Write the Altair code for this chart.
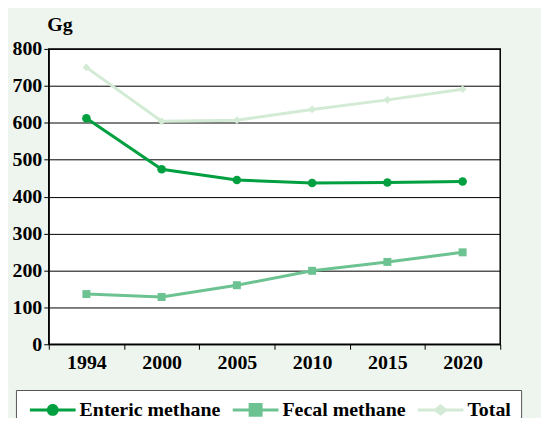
import altair as alt
import pandas as pd

years = ["1994", "2000", "2005", "2010", "2015", "2020"]
enteric = [612, 474, 445, 437, 438, 441]
fecal = [136, 128, 160, 199, 223, 249]
total = [750, 604, 607, 636, 662, 691]
series = ["Enteric methane", "Fecal methane", "Total"]
colors = ["#00A040", "#6CC391", "#D3EBD5"]
y_ticks = [0, 100, 200, 300, 400, 500, 600, 700, 800]

rows = []
for name, vals in zip(series, [enteric, fecal, total]):
    for yr, v in zip(years, vals):
        rows.append({"Year": yr, "Value": v, "Series": name})
df = pd.DataFrame(rows)

FONT = "Liberation Serif"

LINE = "M-2.3,-0.15H2.3V0.15H-2.3Z"
CIRCLE = LINE + "M0.6,0A0.6,0.6,0,1,1,-0.6,0A0.6,0.6,0,1,1,0.6,0Z"
SQUARE = LINE + "M-0.7,-0.7H0.7V0.7H-0.7Z"
DIAMOND = LINE + "M0,-0.6L0.75,0L0,0.6L-0.75,0Z"

x_enc = alt.X(
    "Year:N",
    sort=years,
    scale=alt.Scale(type="band", paddingInner=0, paddingOuter=0),
    axis=alt.Axis(
        title=None, labelAngle=0, tickBand="extent", tickSize=5,
        tickColor="black", domainColor="black", labelColor="black",
        labelFont=FONT, labelFontSize=20, labelFontWeight="bold",
        labelPadding=3, grid=False,
    ),
)
y_enc = alt.Y(
    "Value:Q",
    scale=alt.Scale(domain=[0, 800], nice=False),
    axis=alt.Axis(
        values=y_ticks, title="Gg", titleAngle=0, titleAlign="left",
        titleBaseline="alphabetic", titleX=-2, titleY=-19,
        titleFont=FONT, titleFontSize=20, titleFontWeight="bold", titleColor="black",
        labelFont=FONT, labelFontSize=20, labelFontWeight="bold", labelColor="black",
        labelPadding=2, tickSize=5, tickColor="black", domainColor="black",
        grid=True, gridColor="black", gridWidth=1,
    ),
)

base = alt.Chart(df)

layers = []
for name, col, shp, sz in zip(series, colors, ["circle", "square", "diamond"], [75, 64, 60]):
    sub = base.transform_filter(alt.datum.Series == name)
    layers.append(sub.mark_line(strokeWidth=3, color=col).encode(x=x_enc, y=y_enc))
    layers.append(
        sub.mark_point(filled=True, opacity=1, shape=shp, size=sz, color=col)
        .encode(x=x_enc, y=y_enc)
    )

legend_def = alt.Legend(
    title=None, orient="none", direction="horizontal",
    legendX=-33, legendY=343, padding=10,
    fillColor="white", strokeColor="#555555",
    symbolSize=400, symbolOffset=17, labelOffset=17, columnPadding=8,
    symbolStrokeWidth=0, symbolOpacity=1,
    labelFont=FONT, labelFontSize=20, labelFontWeight="bold",
    labelColor="black", labelLimit=400,
)

legend_carrier = base.mark_point(filled=True, opacity=0).encode(
    x=x_enc, y=y_enc,
    color=alt.Color("Series:N", scale=alt.Scale(domain=series, range=colors), legend=legend_def),
    shape=alt.Shape("Series:N", scale=alt.Scale(domain=series, range=[CIRCLE, SQUARE, DIAMOND]),
                    legend=legend_def),
)

chart = alt.layer(*layers, legend_carrier).properties(
    width=454, height=297,
    background="#EEF5EE",
    padding={"left": 41, "top": 40, "right": 41, "bottom": 73},
    autosize=alt.AutoSizeParams(type="none"),
).configure_view(fill="white", stroke="black", strokeWidth=1.5)

chart.save("out.html", embed_options={"renderer": "svg", "actions": False})
